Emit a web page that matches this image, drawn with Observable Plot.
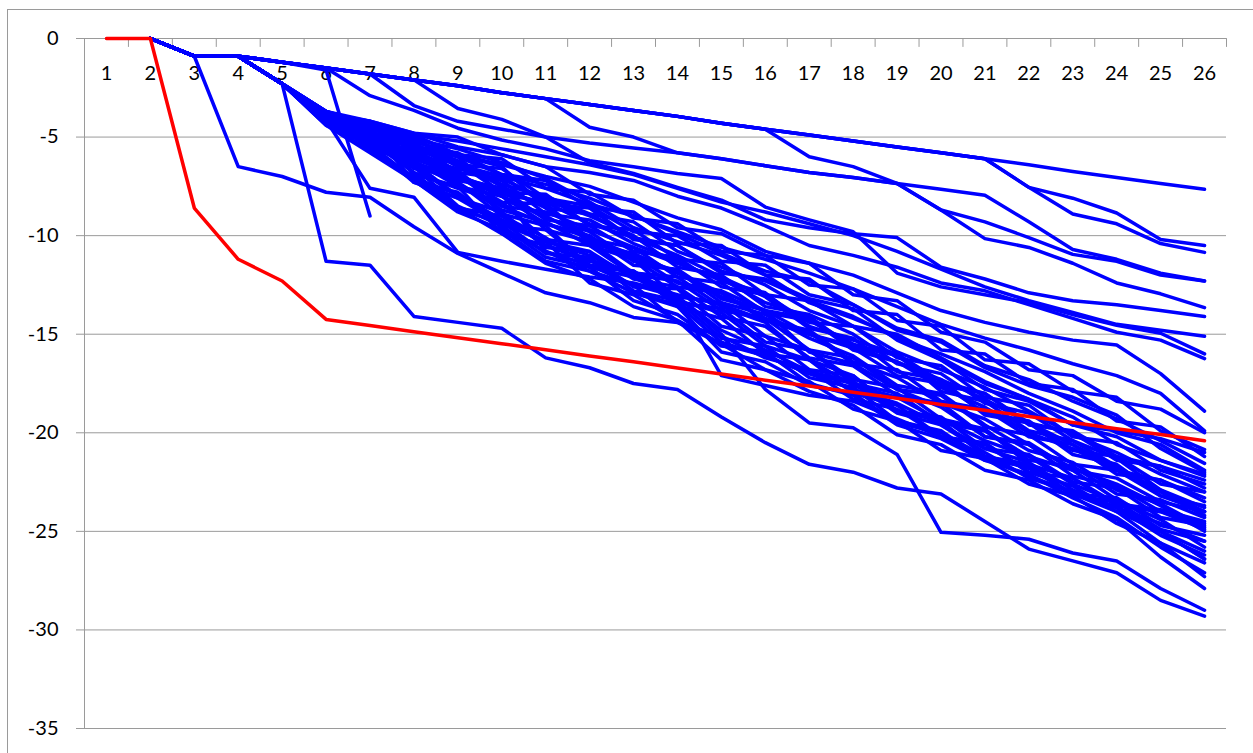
<!DOCTYPE html>
<html>
<head>
<meta charset="utf-8">
<script src="https://cdn.jsdelivr.net/npm/d3@7"></script>
<script src="https://cdn.jsdelivr.net/npm/@observablehq/plot@0.6"></script>
<style>
  html, body { margin: 0; padding: 0; background: #fff; overflow: hidden; }
  #wrap { position: relative; width: 1253px; height: 753px; }
  #border { position: absolute; left: 7px; top: 9px; width: 1270px; height: 770px; border: 1px solid #9a9a9a; box-sizing: border-box; }
  #chart { position: absolute; left: 0; top: 0; }
</style>
</head>
<body>
<div id="wrap"><div id="border"></div><div id="chart"></div></div>
<script>
// Category steps along the horizontal axis
const steps = [1,2,3,4,5,6,7,8,9,10,11,12,13,14,15,16,17,18,19,20,21,22,23,24,25,26];
const yTicks = [0,-5,-10,-15,-20,-25,-30,-35];

// Highlighted series
const redSeries = [0,0,-8.6,-11.2,-12.3,-14.25,-14.56,-14.87,-15.18,-15.48,-15.79,-16.1,-16.4,-16.71,-17.02,-17.33,-17.63,-17.94,-18.25,-18.56,-18.86,-19.17,-19.48,-19.79,-20.09,-20.4];

// Other series (they begin at step 2)
const b01 = [null,0,-0.9,-0.9,-1.2,-1.5,-1.8,-2.1,-2.4,-2.75,-3.05,-3.35,-3.65,-3.95,-4.3,-4.6,-4.9,-5.2,-5.5,-5.8,-6.1,-6.4,-6.75,-7.05,-7.35,-7.65];
const b02 = [null,0,-0.9,-0.9,-1.2,-1.5,-1.8,-2.1,-2.4,-2.75,-3.05,-4.5,-5.0,-5.8,-6.1,-6.45,-6.8,-7.05,-7.35,-7.65,-7.95,-9.3,-10.7,-11.2,-11.9,-12.3];
const b03 = [null,0,-0.9,-0.9,-1.2,-1.5,-1.8,-2.1,-2.4,-2.75,-3.05,-3.35,-3.65,-3.95,-4.3,-4.6,-6.0,-6.5,-7.35,-8.7,-10.15,-10.6,-11.4,-12.4,-12.95,-13.65];
const b04 = [null,0,-0.9,-0.9,-1.2,-1.5,-1.8,-2.1,-2.4,-2.75,-3.05,-3.35,-3.65,-3.95,-4.3,-4.6,-4.9,-5.2,-5.5,-5.8,-6.1,-7.55,-8.9,-9.4,-10.4,-10.85];
const b05 = [null,0,-0.9,-0.9,-1.2,-1.5,-1.8,-2.1,-2.4,-2.75,-3.05,-3.35,-3.65,-3.95,-4.3,-4.6,-4.9,-5.2,-5.5,-5.8,-6.1,-7.55,-8.1,-8.85,-10.2,-10.5];
const b06 = [null,0,-0.9,-0.9,-1.2,-1.5,-1.8,-3.4,-4.2,-4.6,-5.0,-5.3,-5.55,-5.8,-6.1,-6.45,-6.8,-7.05,-7.35,-8.7,-9.3,-10.1,-10.95,-11.3,-12.0,-12.3];
const b07 = [null,0,-0.9,-0.9,-1.2,-1.5,-1.8,-2.1,-3.55,-4.1,-5.0,-6.3,-6.85,-7.55,-8.2,-9.2,-9.6,-9.9,-10.1,-11.6,-12.2,-12.9,-13.3,-13.5,-13.8,-14.1];
const b08 = [null,0,-0.9,-0.9,-1.2,-1.5,-2.9,-3.65,-4.55,-5.15,-5.6,-6.2,-6.5,-6.85,-7.1,-8.55,-9.2,-9.8,-11.9,-12.6,-13.0,-13.4,-14.0,-14.55,-14.95,-16.0];
const b09 = [null,0,-0.9,-0.9,-2.3,-3.7,-4.3,-4.9,-5.2,-5.6,-6.0,-6.4,-6.9,-7.6,-8.3,-8.8,-9.4,-10.0,-10.8,-11.7,-12.6,-13.3,-13.9,-14.5,-14.8,-15.1];
const b10 = [null,0,-0.9,-0.9,-2.3,-3.8,-4.2,-4.8,-5.5,-5.9,-6.5,-6.8,-7.2,-8.0,-8.6,-9.5,-10.5,-11.0,-11.6,-12.4,-12.8,-13.5,-14.2,-14.9,-15.3,-16.24];
const b11 = [null,0,-0.9,-0.9,-2.3,-3.9,-4.5,-5.2,-5.9,-6.4,-7.0,-7.5,-8.3,-9.1,-9.7,-10.8,-11.4,-12.0,-12.9,-13.8,-14.4,-14.9,-15.3,-15.55,-17.0,-18.9];
const b12 = [null,0,-0.9,-0.9,-2.3,-4.0,-4.7,-5.6,-6.4,-7.0,-7.6,-8.4,-9.0,-9.8,-10.6,-11.2,-11.9,-12.7,-13.6,-14.5,-15.2,-15.8,-16.5,-17.1,-18.0,-19.9];
const b13 = [null,0,-0.9,-0.9,-2.3,-4.1,-5.0,-6.3,-7.0,-8.0,-9.0,-10.2,-11.2,-13.2,-17.1,-17.6,-18.1,-18.4,-19.3,-20.2,-21.3,-22.2,-23.0,-23.8,-24.6,-25.5];
const b14 = [null,0,-0.9,-0.9,-2.3,-4.2,-5.4,-7.3,-8.1,-9.4,-10.3,-11.0,-12.0,-13.1,-15.0,-17.8,-19.5,-19.75,-21.1,-25.05,-25.2,-25.4,-26.1,-26.5,-27.9,-29.0];
const b15 = [null,0,-0.9,-0.9,-2.3,-11.3,-11.5,-14.1,-14.4,-14.7,-16.2,-16.7,-17.5,-17.8,-19.2,-20.5,-21.6,-22.0,-22.8,-23.1,-24.5,-25.9,-26.5,-27.1,-28.5,-29.3];
const b16 = [null,0,-0.9,-6.5,-7.0,-7.8,-8.05,-9.55,-10.9,-11.9,-12.9,-13.4,-14.15,-14.4,-15.5,-16.1,-17.0,-17.8,-18.5,-19.6,-21.0,-22.3,-23.0,-23.8,-25.0,-26.4];
const b17 = [null,0,-0.9,-0.9,-2.3,-4.15,-7.6,-8.05,-10.85,-11.3,-11.7,-12.1,-12.4,-13.0,-13.5,-14.3,-15.0,-15.6,-16.4,-17.3,-18.3,-19.5,-20.6,-21.8,-22.9,-24.0];
const b18 = [null,0,-0.9,-0.9,-1.2,-1.6,-9.0,null,null,null,null,null,null,null,null,null,null,null,null,null,null,null,null,null,null,null];
const b19 = [null,0,-0.9,-0.9,-2.3,-3.7,-4.2,-4.8,-5.0,-5.9,-6.5,-7.9,-8.2,-9.6,-9.9,-11.0,-11.4,-13.0,-13.3,-14.9,-15.4,-16.8,-17.1,-18.4,-18.8,-20.0];
const b20 = [null,0,-0.9,-0.9,-2.3,-3.8,-4.6,-4.9,-5.9,-6.1,-7.6,-7.8,-9.1,-9.4,-10.8,-11.0,-12.5,-12.7,-14.3,-14.6,-16.3,-16.5,-17.9,-18.2,-19.9,-20.85];
const b21 = [null,0,-0.9,-0.9,-2.3,-3.9,-4.3,-5.5,-5.8,-6.9,-7.2,-8.6,-8.8,-10.4,-10.5,-12.0,-12.2,-13.8,-14.0,-15.8,-16.0,-17.5,-17.8,-19.4,-19.7,-21.2];
const b22 = [null,0,-0.9,-0.9,-2.3,-4.0,-4.4,-5.0,-6.4,-6.6,-8.1,-8.5,-9.8,-10.0,-11.3,-11.5,-13.0,-13.5,-14.7,-15.3,-16.6,-17.3,-18.4,-19.3,-20.4,-21.55];
const b23 = [null,0,-0.9,-0.9,-2.3,-4.1,-4.9,-5.3,-6.5,-7.0,-8.4,-8.6,-10.2,-10.5,-11.8,-12.3,-13.3,-14.1,-15.2,-16.0,-16.9,-18.0,-18.9,-20.0,-20.6,-21.9];
const b24 = [null,0,-0.9,-0.9,-2.3,-3.7,-4.7,-6.0,-6.3,-7.8,-7.9,-9.5,-9.7,-11.2,-11.4,-13.0,-13.3,-14.6,-15.0,-16.2,-17.4,-18.3,-19.6,-20.2,-21.4,-22.1];
const b25 = [null,0,-0.9,-0.9,-2.3,-4.2,-5.2,-5.9,-7.1,-7.6,-9.2,-9.5,-10.8,-11.1,-12.6,-13.0,-14.4,-14.6,-16.2,-16.6,-18.2,-18.6,-20.2,-20.5,-21.9,-22.6];
const b26 = [null,0,-0.9,-0.9,-2.3,-3.8,-5.0,-6.6,-7.0,-8.3,-8.4,-10.2,-10.6,-12.1,-12.4,-13.9,-14.3,-15.5,-16.1,-17.6,-18.0,-19.5,-20.0,-21.4,-21.7,-22.8];
const b27 = [null,0,-0.9,-0.9,-2.3,-4.3,-5.0,-6.2,-7.5,-8.0,-9.4,-10.0,-11.5,-11.7,-13.2,-13.8,-15.0,-15.7,-17.1,-17.5,-19.0,-19.4,-20.9,-21.2,-22.6,-23.0];
const b28 = [null,0,-0.9,-0.9,-2.3,-4.0,-5.5,-6.4,-7.3,-8.7,-9.3,-10.5,-11.2,-12.6,-12.9,-14.2,-14.9,-16.5,-16.8,-18.4,-18.8,-20.2,-20.6,-22.1,-22.4,-23.3];
const b29 = [null,0,-0.9,-0.9,-2.3,-4.4,-5.2,-6.8,-7.6,-8.3,-10.2,-10.5,-12.0,-12.3,-13.8,-14.2,-15.8,-16.2,-17.8,-18.1,-19.7,-20.1,-21.6,-21.9,-23.2,-23.7];
const b30 = [null,0,-0.9,-0.9,-2.3,-3.9,-5.6,-7.2,-8.1,-8.8,-10.6,-10.8,-12.2,-12.6,-14.1,-14.6,-16.2,-16.6,-18.1,-18.5,-20.2,-20.5,-21.9,-22.3,-23.5,-24.0];
const b31 = [null,0,-0.9,-0.9,-2.3,-4.1,-4.7,-6.5,-8.0,-9.5,-9.7,-11.5,-11.8,-13.4,-13.7,-15.4,-15.8,-17.5,-18.0,-19.5,-19.9,-21.4,-21.7,-23.1,-23.4,-24.3];
const b32 = [null,0,-0.9,-0.9,-2.3,-4.2,-5.4,-7.2,-8.7,-9.3,-10.9,-11.1,-12.6,-12.7,-14.6,-15.1,-16.8,-17.1,-18.9,-19.2,-20.8,-21.1,-22.5,-22.8,-24.3,-24.7];
const b33 = [null,0,-0.9,-0.9,-2.3,-3.7,-4.6,-6.9,-7.5,-9.9,-10.5,-11.3,-11.8,-13.6,-14.2,-16.0,-16.3,-18.0,-18.6,-20.2,-20.5,-22.0,-22.3,-23.7,-24.0,-24.9];
const b34 = [null,0,-0.9,-0.9,-2.3,-4.3,-5.7,-7.0,-8.6,-9.0,-10.5,-11.2,-12.8,-13.3,-15.2,-15.6,-17.2,-17.7,-19.4,-19.9,-21.4,-21.7,-23.1,-23.3,-24.7,-25.2];
const b35 = [null,0,-0.9,-0.9,-2.3,-4.0,-5.1,-5.9,-7.2,-7.6,-9.7,-10.3,-11.9,-12.1,-13.6,-14.4,-16.3,-17.1,-18.9,-19.4,-21.2,-21.6,-23.2,-23.5,-24.9,-25.5];
const b36 = [null,0,-0.9,-0.9,-2.3,-3.8,-4.4,-5.7,-6.7,-8.9,-9.5,-11.6,-12.1,-13.3,-13.9,-15.6,-16.3,-17.6,-18.2,-19.4,-19.9,-21.2,-21.9,-23.4,-24.4,-25.8];
const b37 = [null,0,-0.9,-0.9,-2.3,-4.1,-5.2,-5.7,-6.9,-7.9,-10.8,-11.5,-12.5,-13.1,-14.8,-15.8,-16.9,-17.4,-18.9,-19.3,-20.4,-21.2,-22.6,-23.5,-25.0,-26.0];
const b38 = [null,0,-0.9,-0.9,-2.3,-4.2,-5.5,-6.3,-8.0,-9.3,-10.3,-10.8,-12.9,-13.5,-15.4,-16.1,-17.0,-17.5,-19.0,-19.6,-20.8,-21.5,-22.9,-23.8,-25.2,-26.2];
const b39 = [null,0,-0.9,-0.9,-2.3,-3.9,-4.5,-7.3,-7.8,-9.6,-10.8,-11.8,-12.5,-14.4,-15.1,-16.2,-16.8,-18.3,-18.8,-20.2,-20.6,-22.0,-22.7,-24.0,-25.0,-26.4];
const b40 = [null,0,-0.9,-0.9,-2.3,-4.4,-5.8,-7.2,-8.8,-9.7,-11.3,-11.8,-12.9,-13.6,-15.9,-16.4,-17.6,-18.0,-19.5,-20.0,-21.2,-21.8,-23.1,-24.0,-25.6,-26.6];
const b41 = [null,0,-0.9,-0.9,-2.3,-4.0,-5.3,-6.5,-8.5,-9.5,-11.1,-11.6,-13.3,-14.0,-15.6,-15.9,-17.5,-18.1,-19.6,-20.3,-21.4,-22.1,-23.3,-24.3,-25.8,-27.1];
const b42 = [null,0,-0.9,-0.9,-2.3,-4.3,-5.4,-7.1,-7.9,-9.2,-10.3,-12.4,-13.0,-14.3,-15.5,-16.8,-17.4,-18.8,-19.4,-20.9,-21.3,-22.6,-23.2,-24.6,-25.6,-27.3];
const b43 = [null,0,-0.9,-0.9,-2.3,-3.8,-5.0,-6.8,-8.6,-9.9,-11.4,-12.2,-13.6,-14.3,-16.3,-16.8,-17.9,-18.6,-20.1,-20.6,-21.9,-22.4,-23.6,-24.4,-26.3,-27.9];
const b44 = [null,0,-0.9,-0.9,-2.3,-4.1,-5.2,-6.4,-7.3,-9.0,-10.1,-11.6,-11.8,-13.1,-13.4,-15.1,-15.8,-17.3,-17.7,-19.3,-19.8,-21.6,-22.3,-23.6,-23.9,-24.5];
const b45 = [null,0,-0.9,-0.9,-2.3,-3.7,-4.4,-4.9,-5.9,-6.5,-8.6,-8.9,-10.1,-10.5,-11.9,-12.2,-13.2,-13.7,-15.3,-16.3,-17.8,-18.4,-19.6,-19.9,-20.3,-21.0];
const b46 = [null,0,-0.9,-0.9,-2.3,-4.2,-4.7,-5.9,-6.7,-8.5,-8.8,-9.7,-10.6,-11.4,-12.2,-13.4,-14.1,-15.7,-16.0,-17.4,-18.0,-19.6,-19.9,-21.2,-21.7,-22.4];
const b47 = [null,0,-0.9,-0.9,-2.3,-3.9,-5.1,-5.8,-7.4,-8.5,-9.4,-10.1,-11.1,-11.8,-13.1,-13.8,-15.9,-16.5,-17.8,-18.7,-20.2,-20.6,-22.2,-22.7,-24.0,-24.6];
const b48 = [null,0,-0.9,-0.9,-2.3,-4.0,-4.5,-5.6,-6.3,-7.5,-8.6,-10.1,-11.0,-12.4,-12.8,-13.8,-14.2,-15.8,-16.4,-17.7,-18.7,-20.0,-20.8,-21.9,-22.4,-23.5];
const b49 = [null,0,-0.9,-0.9,-2.3,-3.9,-4.4,-5.1,-5.6,-6.3,-7.1,-8.3,-9.6,-10.3,-11.0,-12.0,-13.4,-14.2,-15.1,-16.3,-17.5,-18.3,-19.2,-20.6,-21.4,-22.2];
const b50 = [null,0,-0.9,-0.9,-2.3,-4.1,-4.8,-5.4,-6.2,-7.4,-8.0,-8.9,-9.3,-10.8,-11.6,-12.5,-13.8,-14.6,-15.9,-16.8,-17.7,-18.9,-20.1,-21.0,-22.1,-23.0];
const b51 = [null,0,-0.9,-0.9,-2.3,-3.8,-4.9,-6.1,-6.6,-7.2,-8.9,-9.2,-10.4,-11.3,-12.3,-12.9,-14.6,-15.3,-16.0,-17.9,-18.4,-19.9,-20.4,-21.7,-23.0,-24.2];
const b52 = [null,0,-0.9,-0.9,-2.3,-4.3,-5.3,-5.6,-7.0,-7.7,-8.4,-10.4,-10.9,-11.9,-12.9,-14.3,-14.8,-16.4,-17.2,-18.5,-19.3,-20.6,-21.8,-22.6,-23.7,-25.0];
const b53 = [null,0,-0.9,-0.9,-2.3,-3.9,-4.2,-5.2,-6.0,-6.9,-7.4,-8.1,-9.0,-9.9,-10.9,-11.8,-12.3,-13.5,-14.8,-15.4,-16.7,-17.6,-18.2,-19.1,-20.8,-22.0];
const b54 = [null,0,-0.9,-0.9,-2.3,-4.1,-4.6,-6.1,-6.9,-8.0,-9.1,-9.8,-11.3,-11.8,-13.4,-14.0,-15.2,-16.1,-17.6,-18.0,-19.6,-20.9,-21.5,-22.9,-23.6,-24.8];
const b55 = [null,0,-0.9,-0.9,-2.3,-3.7,-4.5,-5.3,-6.8,-7.1,-8.2,-9.0,-10.0,-11.6,-12.0,-13.6,-14.0,-15.0,-16.5,-17.0,-18.5,-19.0,-20.4,-21.3,-22.9,-23.8];
const b56 = [null,0,-0.9,-0.9,-2.3,-4.0,-5.0,-5.5,-6.0,-7.9,-8.3,-9.4,-10.1,-11.0,-12.1,-13.1,-14.7,-15.2,-16.9,-17.3,-19.1,-19.5,-21.1,-21.6,-23.2,-24.0];

const blueSeries = [b01,b02,b03,b04,b05,b06,b07,b08,b09,b10,b11,b12,b13,b14,b15,b16,b17,b18,b19,b20,b21,b22,b23,b24,
  b25,b26,b27,b28,b29,b30,b31,b32,b33,b34,b35,b36,b37,b38,b39,b40,b41,b42,b43,b44,b45,b46,b47,b48,
  b49,b50,b51,b52,b53,b54,b55,b56];

// Long-format rows for the line marks
const blueRows = blueSeries.flatMap((vals, i) => vals.map((v, j) => ({series: i, step: steps[j], value: v})));
const redRows = redSeries.map((v, j) => ({step: steps[j], value: v}));

// Category boundaries carry the small tick marks hanging under the zero line
const boundaries = [steps[0] - 0.5, ...steps.map(s => s + 0.5)];
const tickDown = {draw(context, l) { context.moveTo(0, 0); context.lineTo(0, -l); }};

const gray = "#9a9a9a";

const chart = Plot.plot({
  width: 1253,
  height: 753,
  marginLeft: 84,
  marginRight: 27,
  marginTop: 38,
  marginBottom: 25,
  style: {fontFamily: "Lato, 'Open Sans', sans-serif", background: "transparent"},
  x: {type: "linear", domain: [0.5, 26.5], axis: null},
  y: {domain: [-35, 0], axis: null},
  marks: [
    Plot.ruleY(yTicks, {stroke: gray, strokeWidth: 1}),
    Plot.frame({anchor: "left", stroke: gray}),
    Plot.axisY({ticks: yTicks, label: null, tickSize: 8, tickPadding: 18, stroke: gray, fill: "#000",
      fontSize: 20, tickFormat: d => String(d)}),
    Plot.vector(boundaries, {x: d => d, y: 0, length: 8, rotate: 180, anchor: "start",
      shape: tickDown, stroke: gray, strokeWidth: 1}),
    Plot.text(steps, {x: d => d, y: 0, dy: 35, text: d => String(d), fontSize: 20, fill: "#000"}),
    Plot.line(blueRows, {x: "step", y: "value", z: "series", stroke: "#0000ff", strokeWidth: 3.5,
      strokeLinejoin: "round", strokeLinecap: "round"}),
    Plot.line(redRows, {x: "step", y: "value", stroke: "#ff0000", strokeWidth: 3.5,
      strokeLinejoin: "round", strokeLinecap: "round"})
  ]
});

document.getElementById("chart").appendChild(chart);
</script>
</body>
</html>
